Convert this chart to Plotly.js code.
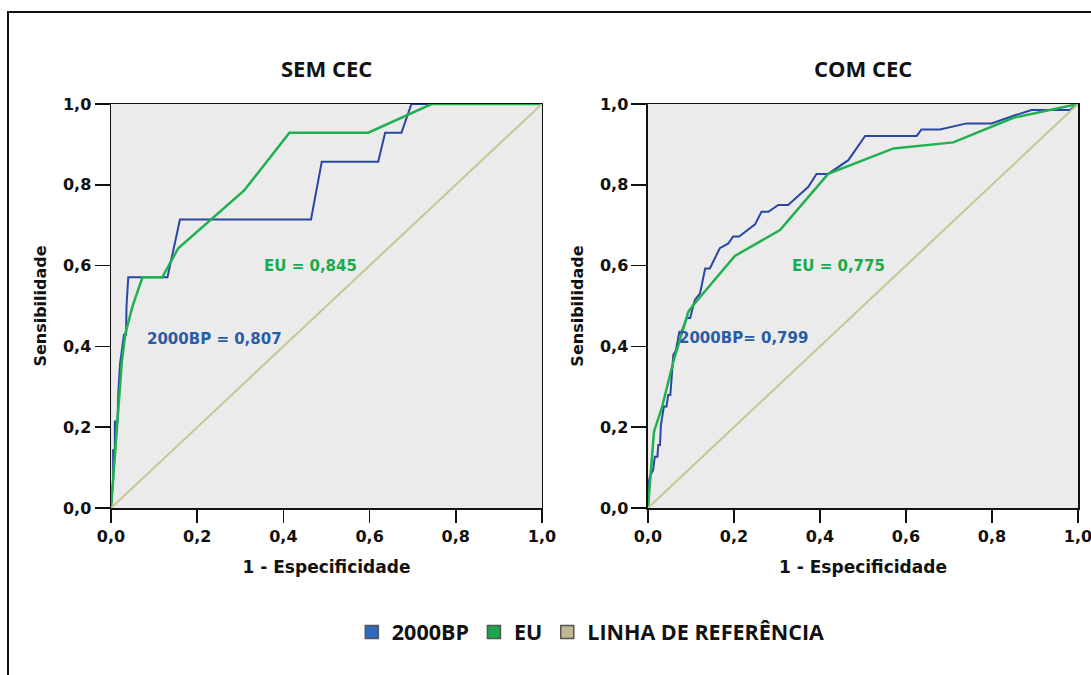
<!DOCTYPE html>
<html>
<head>
<meta charset="utf-8">
<script src="https://cdn.plot.ly/plotly-3.0.1.min.js"></script>
<style>
  html, body { margin: 0; padding: 0; background: #ffffff; }
  #wrap { position: relative; width: 1091px; height: 675px; overflow: hidden; }
  #plot { position: absolute; left: 0; top: 0; width: 1091px; height: 675px; }
  #frame { position: absolute; left: 7px; top: 11px; width: 1200px; height: 800px;
           border-left: 2px solid #111; border-top: 2px solid #111; pointer-events: none; }
</style>
</head>
<body>
<div id="wrap">
  <div id="plot"></div>
  <div id="frame"></div>
</div>
<script>
// ---------- DATA ----------
const panelTitles = ["SEM CEC", "COM CEC"];
const seriesNames = ["2000BP", "EU", "LINHA DE REFERÊNCIA"];
const tickVals = [0, 0.2, 0.4, 0.6, 0.8, 1.0];
const tickText = ["0,0", "0,2", "0,4", "0,6", "0,8", "1,0"];

// SEM CEC (left)
const semBP_x = [0, 0.005, 0.005, 0.009, 0.009, 0.015, 0.017, 0.021, 0.030, 0.035, 0.036, 0.040, 0.131, 0.160, 0.464, 0.489, 0.620, 0.636, 0.674, 0.697, 1];
const semBP_y = [0, 0.071, 0.143, 0.143, 0.214, 0.214, 0.286, 0.357, 0.429, 0.429, 0.500, 0.571, 0.571, 0.714, 0.714, 0.857, 0.857, 0.929, 0.929, 1.0, 1.0];
const semEU_x = [0, 0.013, 0.025, 0.033, 0.050, 0.073, 0.119, 0.156, 0.232, 0.309, 0.414, 0.597, 0.744, 1];
const semEU_y = [0, 0.200, 0.360, 0.430, 0.500, 0.571, 0.571, 0.643, 0.714, 0.786, 0.929, 0.929, 1.0, 1.0];

// COM CEC (right)
const comBP_x = [0, 0.002, 0.005, 0.012, 0.016, 0.022, 0.024, 0.028, 0.030, 0.037, 0.043, 0.047, 0.052, 0.059, 0.065, 0.073, 0.078, 0.090, 0.098, 0.109, 0.121, 0.133, 0.144, 0.167, 0.187, 0.198, 0.212, 0.249, 0.264, 0.280, 0.303, 0.326, 0.373, 0.392, 0.419, 0.443, 0.466, 0.505, 0.625, 0.636, 0.679, 0.741, 0.799, 0.850, 0.892, 0.981, 1];
const comBP_y = [0, 0.065, 0.080, 0.094, 0.127, 0.127, 0.156, 0.156, 0.205, 0.251, 0.251, 0.280, 0.280, 0.379, 0.390, 0.436, 0.436, 0.470, 0.470, 0.515, 0.531, 0.593, 0.593, 0.643, 0.655, 0.672, 0.672, 0.702, 0.733, 0.733, 0.750, 0.750, 0.795, 0.827, 0.827, 0.845, 0.861, 0.921, 0.921, 0.937, 0.937, 0.952, 0.952, 0.971, 0.985, 0.985, 1.0];
const comEU_x = [0, 0.014, 0.032, 0.059, 0.094, 0.105, 0.202, 0.307, 0.419, 0.571, 0.710, 0.850, 1];
const comEU_y = [0, 0.189, 0.247, 0.362, 0.486, 0.502, 0.624, 0.688, 0.827, 0.890, 0.905, 0.966, 1.0];

const refLine = [0, 1];

const aucLabels = [
  {panel: 0, name: "EU", text: "EU = 0,845", x: 0.464, y: 0.599},
  {panel: 0, name: "2000BP", text: "2000BP = 0,807", x: 0.241, y: 0.418},
  {panel: 1, name: "EU", text: "EU = 0,775", x: 0.442, y: 0.599},
  {panel: 1, name: "2000BP", text: "2000BP= 0,799", x: 0.221, y: 0.421}
];

// ---------- STYLE ----------
const lineColors = {"2000BP": "#2a47a3", "EU": "#1fb04f", "LINHA DE REFERÊNCIA": "#c9c592"};
const legendColors = {"2000BP": "#2f6cc0", "EU": "#17a94c", "LINHA DE REFERÊNCIA": "#bdb68f"};
const textColors = {"2000BP": "#2a5ca3", "EU": "#1aaa4c"};
const tickFont = {family: "DejaVu Sans", size: 16, color: "#111", weight: 700};
const titleFont = {family: "DejaVu Sans", size: 17, color: "#111", weight: 700};

const traces = [];
function addPanel(xa, ya, bx, by, ex, ey) {
  traces.push({x: bx, y: by, xaxis: xa, yaxis: ya, mode: "lines", showlegend: false,
               line: {color: lineColors["2000BP"], width: 2}, hoverinfo: "skip"});
  traces.push({x: ex, y: ey, xaxis: xa, yaxis: ya, mode: "lines", showlegend: false,
               line: {color: lineColors["EU"], width: 2.5}, hoverinfo: "skip"});
  traces.push({x: refLine, y: refLine, xaxis: xa, yaxis: ya, mode: "lines", showlegend: false,
               line: {color: lineColors["LINHA DE REFERÊNCIA"], width: 2}, hoverinfo: "skip"});
}
addPanel("x", "y", semBP_x, semBP_y, semEU_x, semEU_y);
addPanel("x2", "y2", comBP_x, comBP_y, comEU_x, comEU_y);

seriesNames.forEach(n => {
  traces.push({x: [null], y: [null], xaxis: "x", yaxis: "y", mode: "markers", name: n,
               marker: {symbol: "square", size: 13, color: legendColors[n], line: {color: "#555", width: 1.5}}});
});

function xAxis(domain, anchor) {
  return {domain: domain, anchor: anchor, range: [0, 1], tickvals: tickVals, ticktext: tickText,
          ticks: "outside", ticklen: 13, tickwidth: 1.5, tickcolor: "#111", ticklabeloverflow: "allow",
          showline: true, mirror: true, linecolor: "#111", linewidth: 1.5,
          showgrid: false, zeroline: false, tickfont: tickFont, fixedrange: true,
          title: {text: "1 - Especificidade", font: titleFont, standoff: 16}};
}
function yAxis(anchor) {
  return {domain: [0, 1], anchor: anchor, range: [0, 1], tickvals: tickVals, ticktext: tickText,
          ticks: "outside", ticklen: 15, tickwidth: 1.5, tickcolor: "#111", ticklabeloverflow: "allow",
          showline: true, mirror: true, linecolor: "#111", linewidth: 1.5,
          showgrid: false, zeroline: false, tickfont: tickFont, fixedrange: true,
          title: {text: "Sensibilidade", font: {family: "DejaVu Sans", size: 16, color: "#111", weight: 700}, standoff: 12}};
}

const annotations = [];
panelTitles.forEach((t, i) => {
  annotations.push({text: t, xref: i === 0 ? "x domain" : "x2 domain", yref: "paper",
                    x: 0.5, y: 1.089, xanchor: "center", yanchor: "middle", showarrow: false,
                    font: {family: "Open Sans", size: 22, color: "#111", weight: 700}});
});
aucLabels.forEach(a => {
  annotations.push({text: a.text, xref: a.panel === 0 ? "x" : "x2", yref: a.panel === 0 ? "y" : "y2",
                    x: a.x, y: a.y, xanchor: "center", yanchor: "middle", showarrow: false,
                    font: {family: "DejaVu Sans", size: 15, color: textColors[a.name], weight: 700}});
});

const layout = {
  width: 1091, height: 675,
  margin: {l: 111, r: 13, t: 104, b: 167, pad: 0},
  paper_bgcolor: "rgba(0,0,0,0)",
  plot_bgcolor: "#ebebeb",
  showlegend: true,
  legend: {orientation: "h", x: 0.4962, xanchor: "center", y: -0.307, yanchor: "middle",
           font: {family: "Open Sans", size: 21.5, color: "#111", weight: 700},
           itemwidth: 30, bgcolor: "rgba(0,0,0,0)", traceorder: "normal"},
  xaxis: xAxis([0, 0.4457], "y"),
  yaxis: yAxis("x"),
  xaxis2: xAxis([0.5553, 1], "y2"),
  yaxis2: yAxis("x2"),
  annotations: annotations
};

Plotly.newPlot("plot", traces, layout, {displayModeBar: false, staticPlot: true});
</script>
</body>
</html>
